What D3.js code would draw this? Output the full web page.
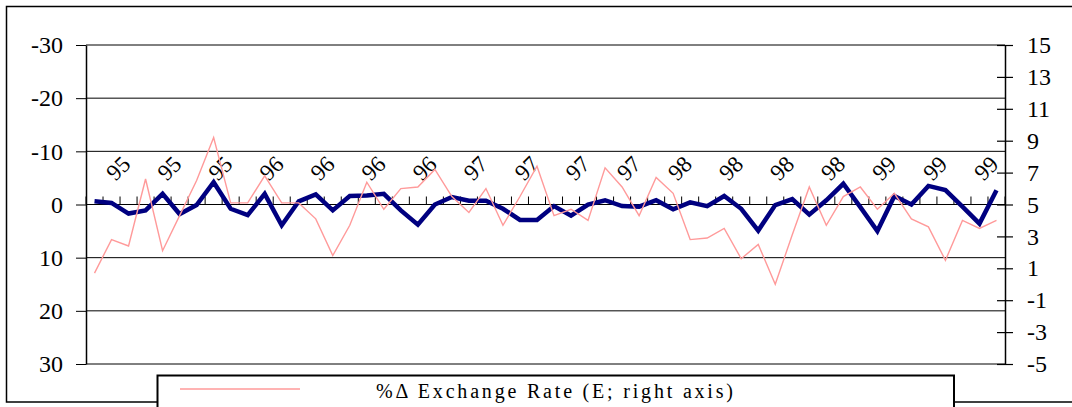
<!DOCTYPE html>
<html>
<head>
<meta charset="utf-8">
<script src="https://cdn.jsdelivr.net/npm/d3@7"></script>
<style>
  body { margin: 0; background: #fff; }
  svg text { font-family: 'Liberation Serif', 'Times New Roman', Times, serif; fill: #000; }
</style>
</head>
<body>
<script>
// monthly series, 54 months (left axis is reversed)
var mainSeries = [-0.6, -0.3, 1.7, 1.1, -2.0, 1.8, 0.1, -4.2, 0.8, 2.0,
                  -2.0, 3.9, -0.6, -1.9, 1.1, -1.6, -1.7, -2.0, 1.1, 3.8,
                  0.0, -1.4, -0.7, -0.7, 0.8, 2.9, 2.9, 0.3, 2.1, 0.0,
                  -0.8, 0.3, 0.4, -0.8, 0.9, -0.4, 0.3, -1.6, 0.8, 4.9,
                  0.1, -1.0, 1.9, -0.8, -3.9, 0.5, 5.0, -1.6, 0.0, -3.5,
                  -2.7, 0.4, 3.6, -2.7];
// %Δ exchange rate, right axis
var exchangeRate = [0.7, 2.8, 2.4, 6.6, 2.1, 4.3, 6.5, 9.2, 5.1, 5.1,
                    6.8, 5.1, 5.1, 4.1, 1.8, 3.7, 6.4, 4.7, 6.0, 6.1,
                    7.2, 5.5, 4.5, 6.0, 3.7, 5.5, 7.4, 4.3, 4.7, 4.0,
                    7.3, 6.1, 4.3, 6.7, 5.7, 2.8, 2.9, 3.5, 1.6, 2.5,
                    0.0, 3.1, 6.1, 3.7, 5.5, 6.1, 4.7, 5.7, 4.1, 3.6,
                    1.5, 4.0, 3.5, 4.0];
var tickLabels = ["95", "95", "95", "96", "96", "96", "96", "97", "97", "97",
                  "97", "98", "98", "98", "98", "99", "99", "99"];
var leftTicks = [-30, -20, -10, 0, 10, 20, 30];
var rightTicks = [-5, -3, -1, 1, 3, 5, 7, 9, 11, 13, 15];
var legendLabel = "%\u0394 Exchange Rate (E; right axis)";

var width = 1072, height = 407;
var plot = { left: 86, right: 1005, top: 45, bottom: 364 };

var svg = d3.select("body").append("svg")
    .attr("width", width)
    .attr("height", height);

// outer chart frame
svg.append("rect")
    .attr("x", 6.5).attr("y", 6.5)
    .attr("width", 1080).attr("height", 395.5)
    .attr("fill", "none").attr("stroke", "#000").attr("stroke-width", 1.5);

var idx = d3.range(mainSeries.length);
var xScale = d3.scalePoint()
    .domain(idx)
    .range([plot.left, plot.right])
    .padding(0.5);
var step = xScale.step();

var yLeft = d3.scaleLinear().domain([-30, 30]).range([plot.top, plot.bottom]);
var yRight = d3.scaleLinear().domain([-5, 15]).range([plot.bottom, plot.top]);
var fmt = function(d) { return String(d); }; // plain hyphen for negatives

// gridlines
svg.append("g").selectAll("line")
    .data(leftTicks)
    .enter().append("line")
    .attr("x1", plot.left).attr("x2", plot.right)
    .attr("y1", function(d) { return yLeft(d); })
    .attr("y2", function(d) { return yLeft(d); })
    .attr("stroke", "#000").attr("stroke-width", 1);

// category ticks on the zero line
svg.append("g").selectAll("line")
    .data(d3.range(mainSeries.length + 1))
    .enter().append("line")
    .attr("x1", function(k) { return plot.left + k * step; })
    .attr("x2", function(k) { return plot.left + k * step; })
    .attr("y1", yLeft(0) - 8).attr("y2", yLeft(0))
    .attr("stroke", "#000").attr("stroke-width", 1);

// left axis
var yAxisLeft = d3.axisLeft(yLeft)
    .tickValues(leftTicks)
    .tickFormat(fmt)
    .tickSize(10)
    .tickSizeOuter(0)
    .tickPadding(13);
var gLeft = svg.append("g")
    .attr("transform", "translate(" + plot.left + ",0)")
    .call(yAxisLeft);
gLeft.attr("font-family", null).attr("font-size", null);
gLeft.select(".domain").attr("stroke", "#000").attr("stroke-width", 1.5);
gLeft.selectAll(".tick line").attr("stroke", "#000");
gLeft.selectAll("text").attr("fill", "#000").style("font-size", "24px");

// right axis, ticks cross the line
var yAxisRight = d3.axisRight(yRight)
    .tickValues(rightTicks)
    .tickFormat(fmt)
    .tickSize(8)
    .tickSizeOuter(0)
    .tickPadding(14);
var gRight = svg.append("g")
    .attr("transform", "translate(" + plot.right + ",0)")
    .call(yAxisRight);
gRight.attr("font-family", null).attr("font-size", null);
gRight.select(".domain").attr("stroke", "#000").attr("stroke-width", 1.5);
gRight.selectAll(".tick line").attr("x1", -8).attr("stroke", "#000").attr("stroke-width", 1.2);
gRight.selectAll("text").attr("fill", "#000").style("font-size", "24px");

// rotated year labels, every third month
svg.append("g").selectAll("text")
    .data(tickLabels)
    .enter().append("text")
    .attr("transform", function(d, i) {
        var cx = xScale(1 + i * 3) + 6.5;
        return "translate(" + cx + ",168) rotate(-45)";
    })
    .attr("text-anchor", "middle")
    .attr("dy", "0.35em")
    .style("font-size", "23px")
    .text(function(d) { return d; });

// main series (left axis)
var lineLeft = d3.line()
    .x(function(d, i) { return xScale(i); })
    .y(function(d) { return yLeft(d); });
svg.append("path")
    .datum(mainSeries)
    .attr("d", lineLeft)
    .attr("fill", "none")
    .attr("stroke", "#000080")
    .attr("stroke-width", 4.5);

// exchange rate (right axis)
var lineRight = d3.line()
    .x(function(d, i) { return xScale(i); })
    .y(function(d) { return yRight(d); });
svg.append("path")
    .datum(exchangeRate)
    .attr("d", lineRight)
    .attr("fill", "none")
    .attr("stroke", "#ff9a9a")
    .attr("stroke-width", 1.4);

// legend
var legend = svg.append("g");
legend.append("rect")
    .attr("x", 157.5).attr("y", 375.5)
    .attr("width", 796.5).attr("height", 40)
    .attr("fill", "#fff").attr("stroke", "#000").attr("stroke-width", 2);
legend.append("line")
    .attr("x1", 180).attr("x2", 300)
    .attr("y1", 389).attr("y2", 389)
    .attr("stroke", "#ff9a9a").attr("stroke-width", 1.4);
legend.append("text")
    .attr("x", 376).attr("y", 398)
    .style("font-size", "20px")
    .attr("textLength", 357)
    .attr("lengthAdjust", "spacing")
    .text(legendLabel);
</script>
</body>
</html>
